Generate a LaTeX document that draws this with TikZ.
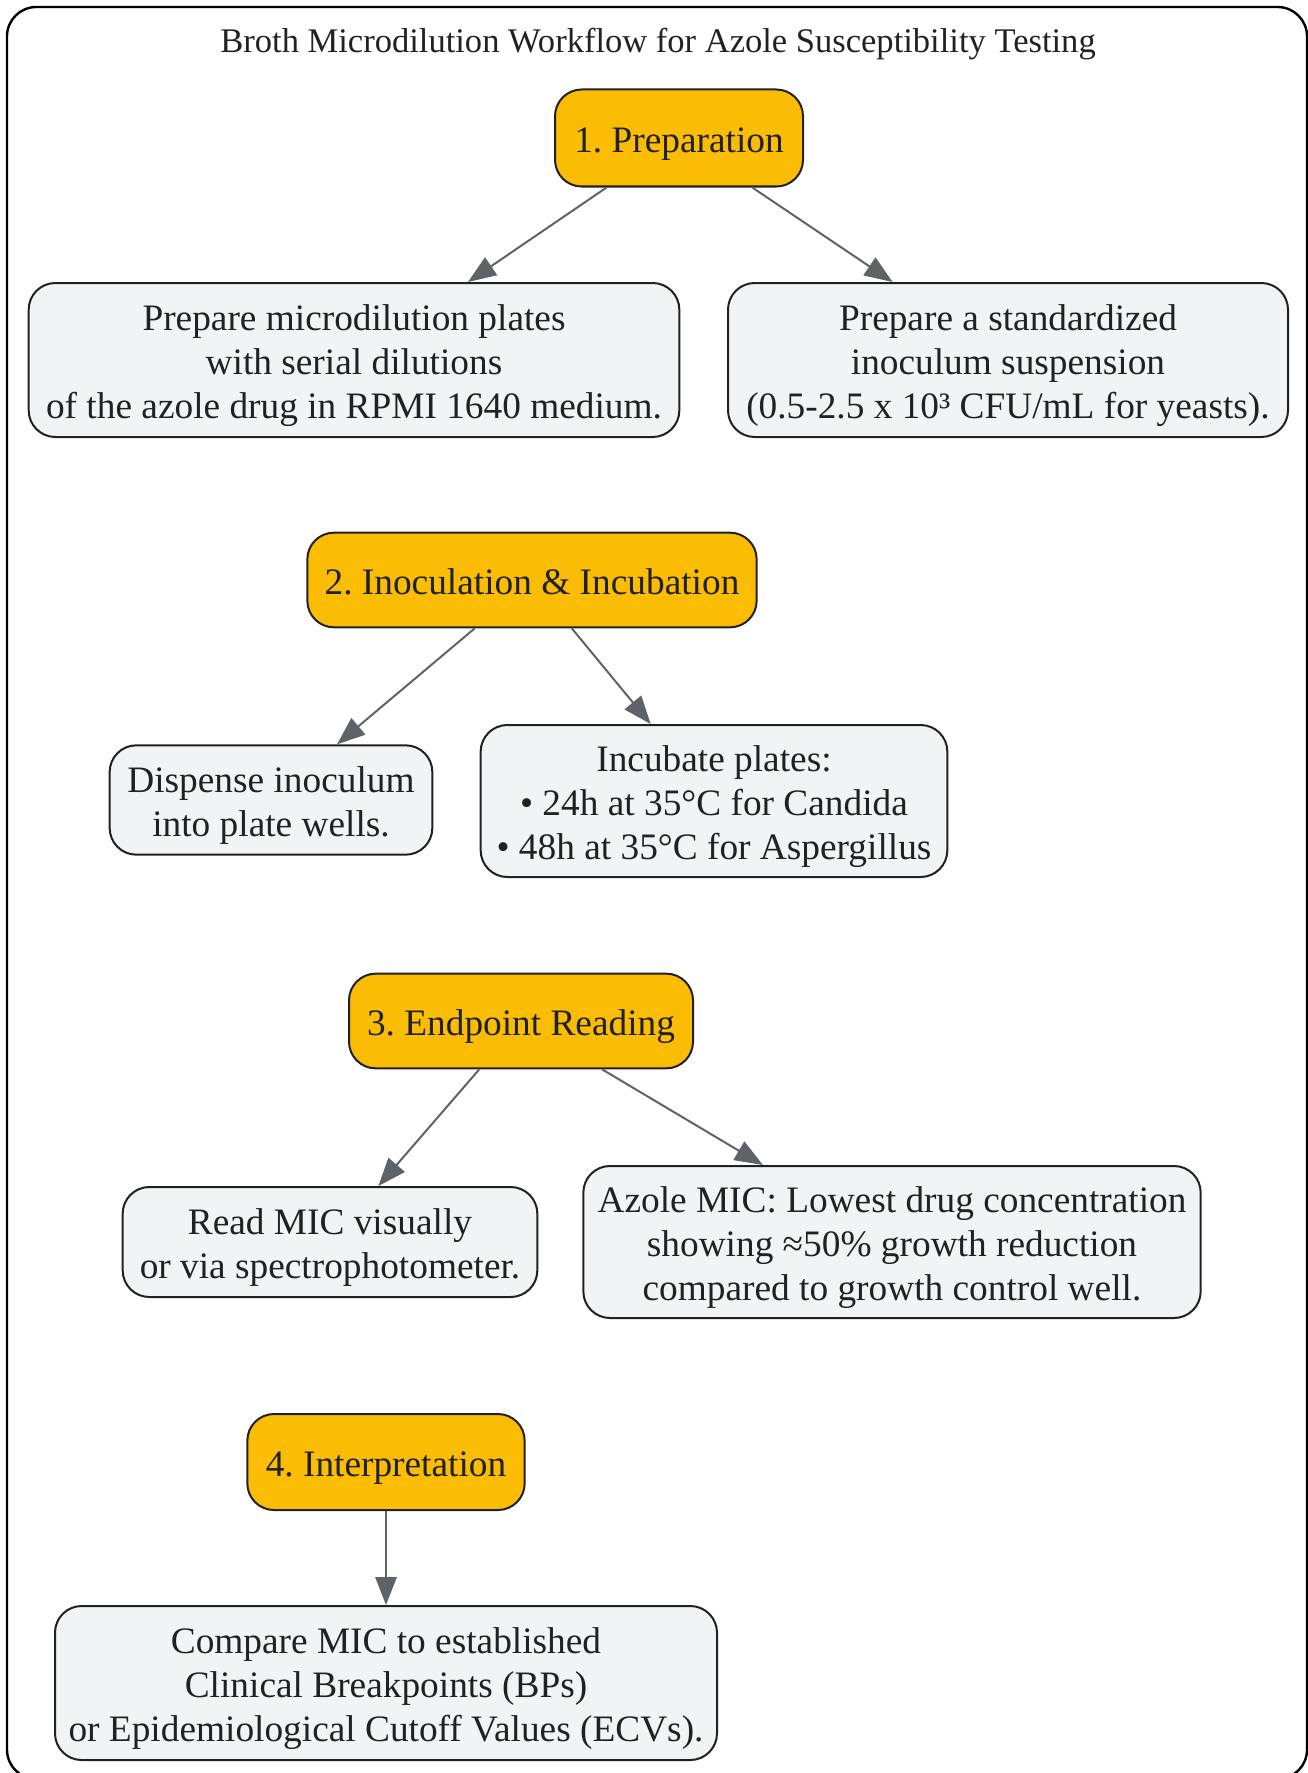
\documentclass[tikz,border=0pt]{standalone}
\usepackage{fontspec}
\setmainfont{Liberation Serif}
\usetikzlibrary{arrows.meta}
\definecolor{phasefill}{HTML}{FBBC04}
\definecolor{taskfill}{HTML}{F1F3F4}
\definecolor{edgegray}{HTML}{5F6368}
\definecolor{inkdark}{HTML}{202124}
\newcommand{\boxlines}[1]{\raisebox{-4.2pt}[\height][\depth]{\begin{tabular}{@{}c@{}}#1\end{tabular}}}

\begin{document}
\frenchspacing
\begin{tikzpicture}[x=0.75pt,y=-0.75pt]
\tikzstyle{every node}+=[inner sep=0pt, align=center, text=inkdark, font=\fontsize{28}{33}\selectfont]
\tikzstyle{phase}=[draw=inkdark, line width=1.5pt, fill=phasefill, rounded corners=20pt]
\tikzstyle{task}=[draw=inkdark, line width=1.5pt, fill=taskfill, rounded corners=20pt]
\tikzstyle{flow}=[draw=edgegray, line width=1.5pt, -{Triangle[length=21pt,width=16pt]}]
\useasboundingbox (0,0) rectangle (1308,1773);
\draw [black, line width=1.8pt, rounded corners=22pt] (7,7) rectangle (1307,1779);
\node (title) at (658,44) {\fontsize{25.9}{30}\selectfont Broth Microdilution Workflow for Azole Susceptibility Testing};
% stage 1
\node [phase, minimum width=186pt, minimum height=72.75pt] (prep) at (679,138) {\boxlines{1. Preparation}};
\node [task, minimum width=488pt, minimum height=115.5pt] (plates) at (354,360) {\boxlines{Prepare microdilution plates\\with serial dilutions\\of the azole drug in RPMI 1640 medium.}};
\node [task, minimum width=420pt, minimum height=115.5pt] (inoculum) at (1008,360) {\boxlines{Prepare a standardized\\inoculum suspension\\(0.5-2.5 x 10³ CFU/mL for yeasts).}};
% stage 2
\node [phase, minimum width=337pt, minimum height=71pt] (inoc) at (532,580) {\boxlines{2. Inoculation \& Incubation}};
\node [task, minimum width=242pt, minimum height=82pt] (dispense) at (271,800) {\boxlines{Dispense inoculum\\into plate wells.}};
\node [task, minimum width=350pt, minimum height=114pt] (incubate) at (714,801) {\boxlines{Incubate plates:\\• 24h at 35°C for Candida\\• 48h at 35°C for Aspergillus}};
% stage 3
\node [phase, minimum width=258pt, minimum height=71pt] (endpoint) at (521,1021) {\boxlines{3. Endpoint Reading}};
\node [task, minimum width=311pt, minimum height=82.5pt] (readmic) at (330,1242) {\boxlines{Read MIC visually\\or via spectrophotometer.}};
\node [task, minimum width=463pt, minimum height=114pt] (azolemic) at (892,1242) {\boxlines{Azole MIC: Lowest drug concentration\\showing ≈50\% growth reduction\\compared to growth control well.}};
% stage 4
\node [phase, minimum width=208pt, minimum height=72pt] (interp) at (386,1462) {\boxlines{4. Interpretation}};
\node [task, minimum width=496.5pt, minimum height=115.5pt] (compare) at (386,1683) {\boxlines{Compare MIC to established\\Clinical Breakpoints (BPs)\\or Epidemiological Cutoff Values (ECVs).}};
\draw [flow] (prep) -- (plates);
\draw [flow] (prep) -- (inoculum);
\draw [flow] (inoc) -- (dispense);
\draw [flow] (inoc) -- (incubate);
\draw [flow] (endpoint) -- (readmic);
\draw [flow] (endpoint) -- (azolemic);
\draw [flow] (interp) -- (compare);
\end{tikzpicture}
\end{document}
